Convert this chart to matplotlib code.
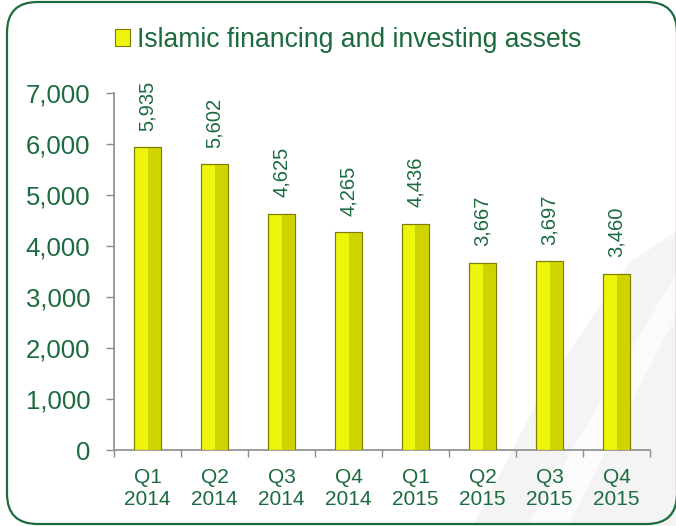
import matplotlib
matplotlib.use("Agg")
import matplotlib.pyplot as plt
from matplotlib.patches import FancyBboxPatch, Polygon
from matplotlib.ticker import FuncFormatter, FixedLocator
import numpy as np

quarters = ["Q1", "Q2", "Q3", "Q4", "Q1", "Q2", "Q3", "Q4"]
years = ["2014", "2014", "2014", "2014", "2015", "2015", "2015", "2015"]
values = [5935, 5602, 4625, 4265, 4436, 3667, 3697, 3460]
series_name = "Islamic financing and investing assets"

plt.rcParams['font.family'] = ['Liberation Sans', 'DejaVu Sans']
GREEN = '#1b6b3e'

W, H = 676, 526
fig = plt.figure(figsize=(W / 100, H / 100), dpi=100)
fig.patch.set_facecolor('white')

# background swoosh (decorative, faint)
fig.patches.append(Polygon([(0.70, 0.0), (1.0, 0.0), (1.0, 0.56), (0.93, 0.50), (0.80, 0.25)],
                           closed=True, transform=fig.transFigure, facecolor='#f4f4f4',
                           edgecolor='none', zorder=0))
fig.patches.append(Polygon([(0.78, 0.0), (0.84, 0.0), (1.0, 0.40), (1.0, 0.48)],
                           closed=True, transform=fig.transFigure, facecolor='#fbfbfb',
                           edgecolor='none', zorder=0))

# rounded border
fig.patches.append(FancyBboxPatch((7 / W, 1 - 524 / H), (677 - 7) / W, (524 - 2) / H,
                                  boxstyle="round,pad=0,rounding_size=0.045",
                                  transform=fig.transFigure, facecolor='none',
                                  edgecolor=GREEN, linewidth=1.6, zorder=1,
                                  mutation_aspect=W / H))

ax = fig.add_axes([114 / W, 1 - 450 / H, (650 - 114) / W, (450 - 93) / H])
ax.set_facecolor('none')
ax.set_zorder(2)

x = np.arange(len(values))
bw = 0.40
bars = ax.bar(x, values, width=bw, color='#eef50c', edgecolor='#7d7d00', linewidth=0.8,
              zorder=3, label=series_name)
# darker right face for bevel look
ax.bar(x + bw / 4, values, width=bw / 2, color='#cfd400', edgecolor='none', zorder=3.5)
ax.bar(x, values, width=bw, color='none', edgecolor='#7d7d00', linewidth=0.8, zorder=4)

for xi, v in zip(x, values):
    ax.annotate(f"{v:,}", (xi, v), xytext=(0, 12), textcoords='offset points',
                rotation=90, ha='center', va='bottom', color=GREEN, fontsize=14.5)

ax.set_xlim(-0.5, len(values) - 0.5)
ax.set_ylim(0, 7000)
ax.set_yticks(range(0, 7001, 1000))
ax.yaxis.set_major_formatter(FuncFormatter(lambda v, p: f"{int(v):,}"))
ax.tick_params(axis='y', colors='#8c8c8c', labelcolor=GREEN, labelsize=18.5,
               length=6, width=1, pad=11)

ax.xaxis.set_major_locator(FixedLocator(np.arange(-0.5, len(values), 1.0)))
ax.xaxis.set_minor_locator(FixedLocator(x))
ax.set_xticklabels([])
ax.set_xticklabels([f"{q}\n{y}" for q, y in zip(quarters, years)], minor=True,
                   linespacing=1.2)
ax.tick_params(axis='x', which='major', colors='#8c8c8c', length=5, width=1)
ax.tick_params(axis='x', which='minor', length=0, labelcolor=GREEN, labelsize=15, pad=13)

for s in ['top', 'right']:
    ax.spines[s].set_visible(False)
for s in ['left', 'bottom']:
    ax.spines[s].set_color('#8c8c8c')
    ax.spines[s].set_linewidth(1.2)

leg = ax.legend(handles=[bars], labels=[series_name], loc='center',
                bbox_to_anchor=(0.4366, 1.148), frameon=False, fontsize=19.1,
                handlelength=0.6, handleheight=0.6, handletextpad=0.25,
                labelcolor=GREEN)

fig.savefig("out.png", dpi=100)
